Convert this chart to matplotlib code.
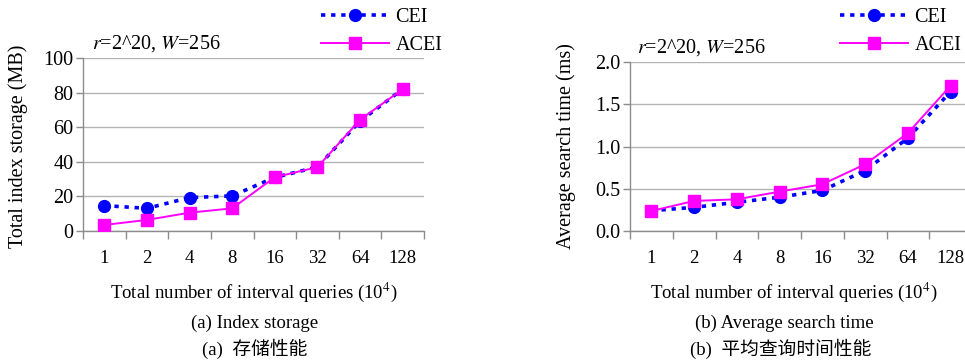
import matplotlib
matplotlib.use("Agg")
import matplotlib.pyplot as plt
from matplotlib.ticker import FixedLocator, NullFormatter

plt.rcParams["font.family"] = ["Liberation Serif", "Noto Sans CJK SC"]
plt.rcParams["mathtext.fontset"] = "stix"

# data
queries = ["1", "2", "4", "8", "16", "32", "64", "128"]
storage_cei = [14.7, 13.1, 19.3, 20.3, 31.0, 37.0, 63.5, 82.0]
storage_acei = [3.5, 6.4, 10.6, 13.1, 31.1, 36.9, 64.3, 82.0]
time_cei = [0.24, 0.28, 0.34, 0.40, 0.48, 0.715, 1.10, 1.65]
time_acei = [0.237, 0.356, 0.375, 0.466, 0.553, 0.79, 1.158, 1.72]

W, H = 965, 363
fig = plt.figure(figsize=(W / 100, H / 100), dpi=100)

BLUE = "#0000ff"
MAG = "#ff00ff"
AXC = "#8c8c8c"
GRIDC = "#b4b4b4"


def fx(px):
    return px / W


def fy(py):
    return 1 - py / H


def make_axes(rect, cei, acei, ylim, yticks, yfmt):
    ax = fig.add_axes(rect)
    xs = range(len(queries))
    ax.plot(xs, cei, color=BLUE, lw=2.6, ls=(0, (1.2, 1.6)), marker="o",
            ms=8.5, mec=BLUE, mfc=BLUE, label="CEI", zorder=3)
    ax.plot(xs, acei, color=MAG, lw=1.4, ls="-", marker="s",
            ms=8, mec=MAG, mfc=MAG, label="ACEI", zorder=4)
    ax.set_xlim(-0.5, len(queries) - 0.5)
    ax.set_ylim(*ylim)
    ax.xaxis.set_major_locator(FixedLocator([i - 0.5 for i in range(len(queries) + 1)]))
    ax.xaxis.set_major_formatter(NullFormatter())
    ax.xaxis.set_minor_locator(FixedLocator(list(xs)))
    ax.set_xticklabels(queries, minor=True)
    ax.tick_params(axis="x", which="major", length=6, width=1, color=AXC, direction="out")
    ax.tick_params(axis="x", which="minor", length=0, pad=14, labelsize=13.5)
    ax.set_yticks(yticks)
    ax.set_yticklabels([yfmt.format(v) for v in yticks])
    ax.tick_params(axis="y", length=5, width=1, color=AXC, labelsize=14.5, pad=2)
    ax.grid(axis="y", color=GRIDC, lw=1)
    ax.set_axisbelow(True)
    for s in ["top", "right"]:
        ax.spines[s].set_visible(False)
    for s in ["left", "bottom"]:
        ax.spines[s].set_color(AXC)
        ax.spines[s].set_linewidth(1)
    return ax


ax1 = make_axes([fx(83), fy(231), fx(424 - 83), (231 - 58) / H],
                storage_cei, storage_acei, (0, 100), [0, 20, 40, 60, 80, 100], "{:.0f}")
ax2 = make_axes([fx(630), fy(231), fx(972 - 630), (231 - 62) / H],
                time_cei, time_acei, (0, 2.0), [0.0, 0.5, 1.0, 1.5, 2.0], "{:.1f}")

for ax, lx in [(ax1, 321), (ax2, 840)]:
    fig.legend(handles=ax.get_lines(), loc="upper left",
               bbox_to_anchor=(fx(lx), fy(8)), frameon=False, fontsize=14.5,
               handlelength=3.4, handletextpad=0.3, labelspacing=0.45,
               borderpad=0, borderaxespad=0)

fig.text(fx(92), fy(44), "$r$=2^20, $W$=256", fontsize=14.5, va="center", ha="left")
fig.text(fx(637), fy(48), "$r$=2^20, $W$=256", fontsize=14.5, va="center", ha="left")

fig.text(fx(18), fy(146), "Total index storage (MB)", rotation=90, fontsize=14.5,
         ha="center", va="center")
fig.text(fx(566), fy(146), "Average search time (ms)", rotation=90, fontsize=14.5,
         ha="center", va="center")

fig.text(fx(254), fy(292), "Total number of interval queries (10$^4$)", fontsize=13.5,
         ha="center", va="center")
fig.text(fx(794), fy(292), "Total number of interval queries (10$^4$)", fontsize=13.5,
         ha="center", va="center")

fig.text(fx(255), fy(323), "(a) Index storage", fontsize=13.5, ha="center", va="center")
fig.text(fx(784), fy(323), "(b) Average search time", fontsize=13.5, ha="center", va="center")
fig.text(fx(255), fy(349), "(a)  存储性能", fontsize=13.5, ha="center", va="center",
         fontweight="light")
fig.text(fx(781), fy(349), "(b)  平均查询时间性能", fontsize=13.5, ha="center", va="center",
         fontweight="light")

fig.savefig("out.png", dpi=100)
